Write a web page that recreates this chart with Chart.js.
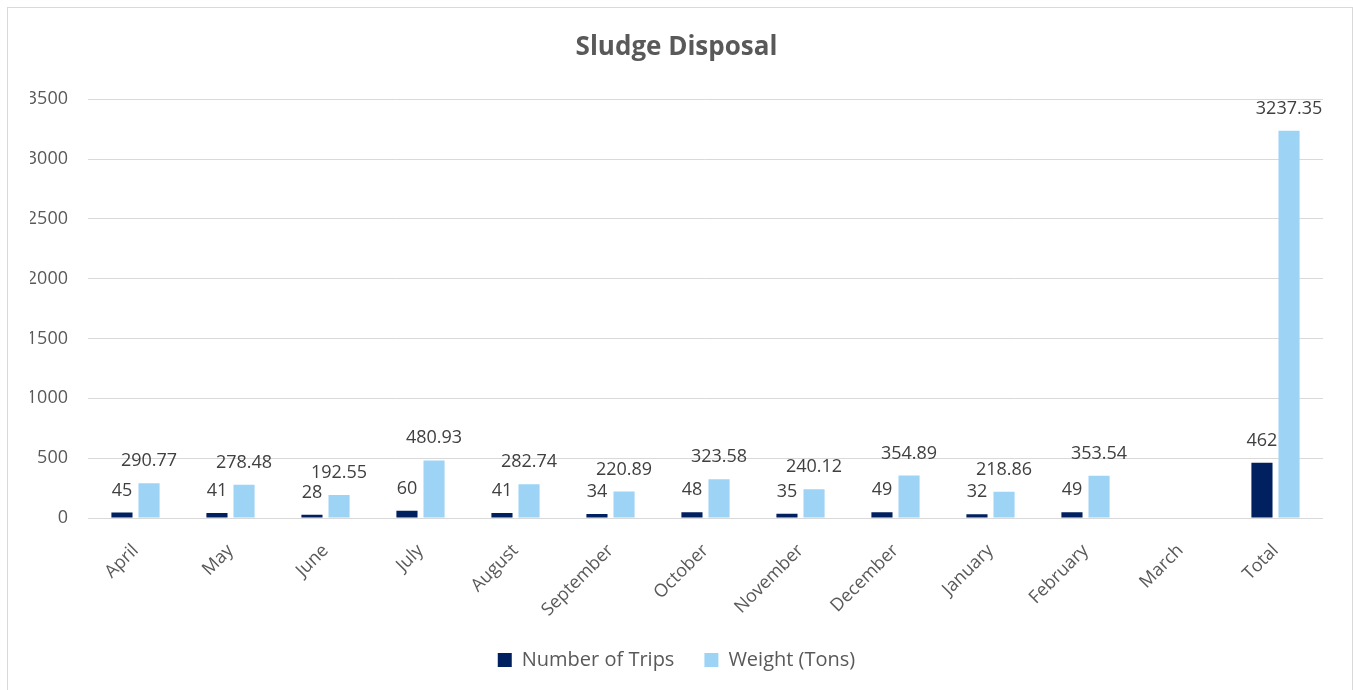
<!DOCTYPE html>
<html>
<head>
<meta charset="utf-8">
<script src="https://cdn.jsdelivr.net/npm/chart.js@4.4.1/dist/chart.umd.min.js"></script>
<style>
  html, body { margin: 0; padding: 0; background: #fff; overflow: hidden; }
  #frame { position: absolute; left: 7px; top: 7px; width: 1344px; height: 700px; border: 1px solid #d9d9d9; }
  #wrap { position: absolute; left: 0; top: 0; width: 1353px; height: 690px; }
</style>
</head>
<body>
<div id="frame"></div>
<div id="wrap"><canvas id="chart"></canvas></div>
<script>
  // Sludge disposal per month
  const months = ['April', 'May', 'June', 'July', 'August', 'September', 'October',
    'November', 'December', 'January', 'February', 'March', 'Total'];
  const trips = [45, 41, 28, 60, 41, 34, 48, 35, 49, 32, 49, null, 462];
  const weightTons = [290.77, 278.48, 192.55, 480.93, 282.74, 220.89, 323.58,
    240.12, 354.89, 218.86, 353.54, null, 3237.35];
  const yTicks = [0, 500, 1000, 1500, 2000, 2500, 3000, 3500];

  const FONT = "'Open Sans', 'Noto Sans', sans-serif";

  // Excel-style "outside end" value labels
  const valueLabels = {
    id: 'valueLabels',
    afterDatasetsDraw(chart) {
      const ctx = chart.ctx;
      ctx.save();
      ctx.font = '18px ' + FONT;
      ctx.fillStyle = '#404040';
      ctx.textAlign = 'center';
      ctx.textBaseline = 'alphabetic';
      chart.data.datasets.forEach((ds, i) => {
        chart.getDatasetMeta(i).data.forEach((bar, j) => {
          const v = ds.data[j];
          if (v === null || v === undefined) return;
          ctx.fillText(String(v), bar.x, bar.y - 17);
        });
      });
      ctx.restore();
    }
  };

  new Chart(document.getElementById('chart'), {
    type: 'bar',
    data: {
      labels: months,
      datasets: [
        { label: 'Number of Trips', data: trips, backgroundColor: '#002060' },
        { label: 'Weight (Tons)', data: weightTons, backgroundColor: '#9dd4f6' }
      ]
    },
    options: {
      responsive: true,
      maintainAspectRatio: false,
      animation: false,
      categoryPercentage: 0.57,
      barPercentage: 0.78,
      layout: { padding: { left: 30, right: 30, top: 20, bottom: 10 } },
      plugins: {
        title: {
          display: true,
          text: 'Sludge Disposal',
          color: '#595959',
          font: { family: FONT, size: 26, weight: 'bold' },
          padding: { top: 12, bottom: 36 }
        },
        legend: {
          position: 'bottom',
          labels: {
            color: '#595959',
            font: { family: FONT, size: 20 },
            boxWidth: 14,
            boxHeight: 14,
            padding: 30
          }
        },
        tooltip: { enabled: false }
      },
      scales: {
        x: {
          grid: { display: false, drawTicks: false },
          border: { display: false },
          ticks: {
            color: '#595959',
            font: { family: FONT, size: 18 },
            maxRotation: 45,
            minRotation: 45,
            padding: 22
          },
          afterFit: function(scale) { scale.height = 102; }
        },
        y: {
          min: 0,
          max: 3500,
          afterBuildTicks: function(scale) { scale.ticks = yTicks.map(v => ({ value: v })); },
          grid: { color: '#d9d9d9', lineWidth: 1, drawTicks: false },
          border: { display: false },
          ticks: {
            color: '#595959',
            font: { family: FONT, size: 18 },
            padding: 20,
            callback: function(value) { return String(value); }
          },
          afterFit: function(scale) { scale.width = 58; }
        }
      }
    },
    plugins: [valueLabels]
  });
</script>
</body>
</html>
